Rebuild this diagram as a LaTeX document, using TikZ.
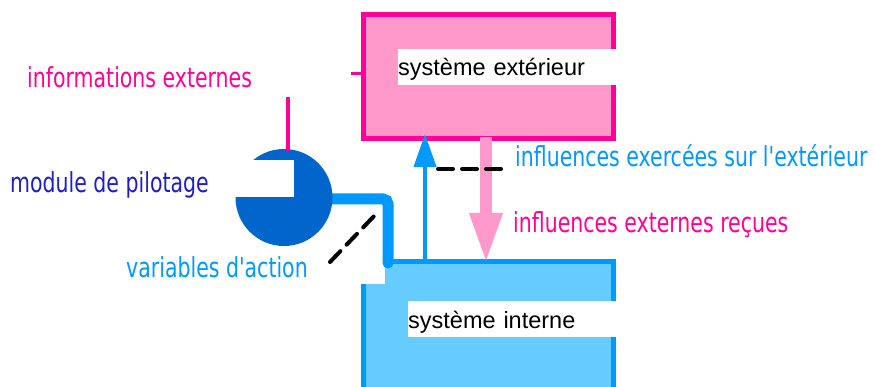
\documentclass[tikz,border=0pt]{standalone}
\usepackage{fontspec}
\setmainfont{Liberation Sans}
\newfontfamily\condfont[FakeStretch=0.745]{DejaVu Sans}
\usetikzlibrary{arrows.meta}
\definecolor{mag}{HTML}{FF0099}
\definecolor{pinkfill}{HTML}{FF99CC}
\definecolor{bline}{HTML}{0099FF}
\definecolor{bfill}{HTML}{66CCFF}
\definecolor{circ}{HTML}{0066CC}
\definecolor{dblue}{HTML}{1E1EC8}
\begin{document}
\begin{tikzpicture}[x=1pt,y=-1pt,
  lbl/.style={font=\condfont\fontsize{27.5}{30}\selectfont, inner sep=0pt, anchor=base west},
  sysbox/.style={minimum width=250pt, inner sep=0pt},
  syslbl/.style={fill=white, inner xsep=0pt, inner ysep=0pt, minimum height=36pt,
    align=left, text height=22pt, text depth=4pt, anchor=west,
    font=\fontsize{23.5}{26}\selectfont},
  dashline/.style={black, line width=4pt, dash pattern=on 15pt off 9pt, line cap=round}]
\useasboundingbox (0,0) rectangle (875,387);
\clip (0,0) rectangle (875,387);
% external system
\node[sysbox, draw=mag, fill=pinkfill, line width=5.5pt, minimum height=124pt] (ext) at (488.5,76.5) {};
\coordinate (tickA) at (351,74);
\coordinate (tickB) at (361,74);
\draw[mag, line width=3pt] (tickA) -- (tickB);
\node[syslbl, text width=218pt, minimum width=218pt] (extlbl) at (398,67) {système extérieur};
% internal system
\node[sysbox, draw=bline, fill=bfill, line width=5pt, minimum height=140pt] (int) at (488.5,331.5) {};
\fill[white] (355,248) rectangle (385,284);
\node[syslbl, text width=208pt, minimum width=208pt] (intlbl) at (408,319) {système interne};
% pilot module
\coordinate (actA) at (331,199);
\coordinate (actB) at (388,199);
\coordinate (actC) at (388,263);
\draw[bline, line width=11pt, line cap=round, rounded corners=5pt] (actA) -- (actB) -- (actC);
\node[circle, fill=circ, minimum size=97pt, inner sep=0pt] (pil) at (284,197.5) {};
\fill[white] (230,160) rectangle (294,197.5);
\coordinate (infA) at (288,97);
\coordinate (infB) at (288,151);
\draw[mag, line width=4pt] (infA) -- (infB);
% arrows
\coordinate (upS) at (425,260);
\coordinate (upE) at (425,134);
\draw[bline, line width=4pt, -{Triangle[width=22pt,length=33pt]}] (upS) -- (upE);
\coordinate (dnS) at (486,137);
\coordinate (dnE) at (486,264);
\draw[pinkfill, line width=12pt, -{Triangle[width=30pt,length=51pt]}] (dnS) -- (dnE);
% dashed leaders
\coordinate (dA) at (330,262);
\coordinate (dB) at (377,213);
\draw[dashline] (dA) -- (dB);
\coordinate (dC) at (438,169);
\coordinate (dD) at (506,169);
\draw[dashline] (dC) -- (dD);
% texts
\node[lbl, text=mag] (tinf) at (27,88) {informations externes};
\node[lbl, text=dblue] (tmod) at (10,193) {module de pilotage};
\node[lbl, text=bline] (tvar) at (126,277) {variables d'action};
\node[lbl, text=bline] (tiex) at (515,167) {influences exercées sur l'extérieur};
\node[lbl, text=mag] (tinr) at (513,233) {influences externes reçues};
\end{tikzpicture}
\end{document}
